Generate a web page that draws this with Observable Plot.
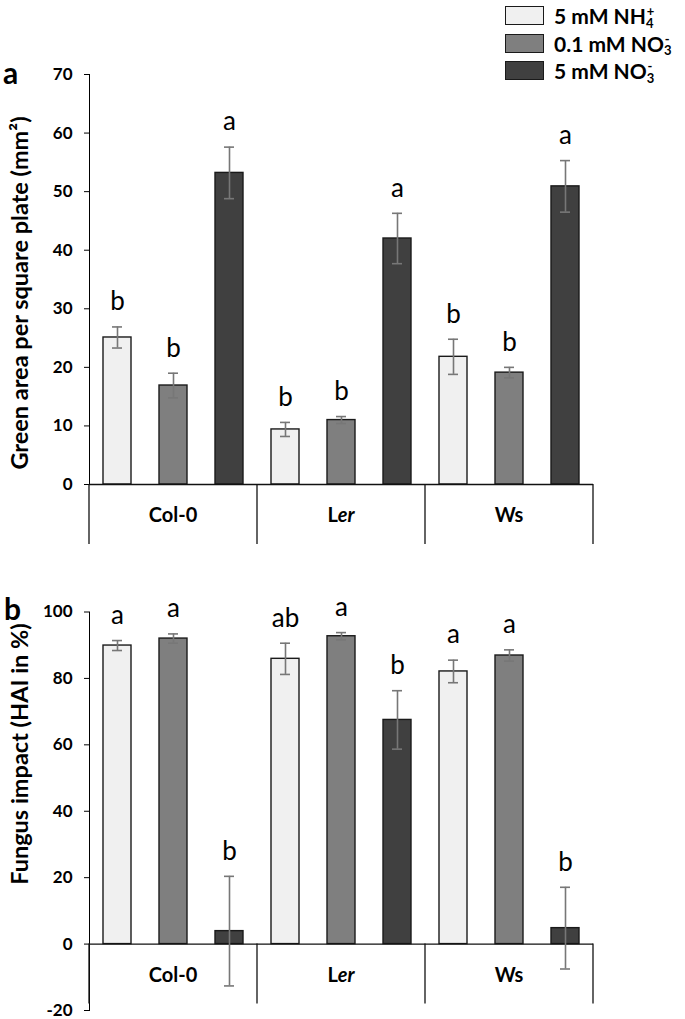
<!DOCTYPE html>
<html>
<head>
<meta charset="utf-8">
<script src="https://cdn.jsdelivr.net/npm/d3@7"></script>
<script src="https://cdn.jsdelivr.net/npm/@observablehq/plot@0.6"></script>
<style>
  body { margin: 0; background: #fff; }
  #root { position: relative; width: 685px; height: 1019px; font-family: Lato, "Open Sans", sans-serif; color: #000; overflow: hidden; }
  .abs { position: absolute; }
  .plabel { font-weight: bold; font-size: 30px; line-height: 1; }
  .ytitle { font-weight: bold; font-size: 23.5px; white-space: nowrap; transform: translate(-50%, -50%) rotate(-90deg); line-height: 1; }
  .leg-row { position: absolute; left: 505px; height: 21px; display: flex; align-items: center; }
  .leg-box { width: 37px; height: 17px; border: 1.6px solid #1a1a1a; }
  .leg-text { margin-left: 10px; font-weight: bold; font-size: 21px; white-space: nowrap; line-height: 1; }
  .leg-text sub, .leg-text sup { font-size: 0.62em; line-height: 0; position: relative; vertical-align: baseline; }
  .leg-text sub { top: 0.3em; }
  .leg-text sup { top: -0.6em; margin-left: -0.52em; }
</style>
</head>
<body>
<div id="root">
  <div id="pa" class="abs" style="left:0;top:0"></div>
  <div id="pb" class="abs" style="left:0;top:560px"></div>
  <div class="abs plabel" style="left:3px;top:57px">a</div>
  <div class="abs plabel" style="left:4px;top:593px">b</div>
  <div class="abs ytitle" style="left:20px;top:293px">Green area per square plate (mm²)</div>
  <div class="abs ytitle" style="left:20px;top:754px">Fungus impact (HAI in %)</div>
  <div id="legend"></div>
</div>
<script>
// ---- data ----
const genotypes = ["Col-0", "Ler", "Ws"];
const treatments = ["5 mM NH4+", "0.1 mM NO3-", "5 mM NO3-"];
const treatmentColors = ["#f0f0f0", "#7f7f7f", "#404040"];

// Panel a: green area per square plate (mm²), rows = genotype, cols = treatment
const areaMean = [[25.1, 16.9, 53.2], [9.4, 11.0, 42.0], [21.8, 19.1, 50.9]];
const areaErr = [[1.8, 2.1, 4.4], [1.2, 0.6, 4.3], [3.0, 0.9, 4.4]];
const areaLetters = [["b", "b", "a"], ["b", "b", "a"], ["b", "b", "a"]];
const areaTicks = [0, 10, 20, 30, 40, 50, 60, 70];

// Panel b: fungus impact (HAI in %)
const haiMean = [[89.9, 92.0, 3.9], [85.9, 92.7, 67.5], [82.1, 86.9, 4.8]];
const haiErr = [[1.5, 1.4, 16.5], [4.7, 1.1, 8.8], [3.4, 1.7, 12.3]];
const haiLetters = [["a", "a", "b"], ["ab", "a", "b"], ["a", "a", "b"]];
const haiTicks = [-20, 0, 20, 40, 60, 80, 100];

// ---- build tables ----
const keyOf = (g, t) => g + "|" + t;
const keys = genotypes.flatMap(g => treatments.map(t => keyOf(g, t)));
function rowsFrom(mean, err, letters) {
  return genotypes.flatMap((g, i) => treatments.map((t, j) => ({
    key: keyOf(g, t), genotype: g, treatment: t,
    mean: mean[i][j], err: err[i][j], letter: letters[i][j]
  })));
}

const FONT = "Lato, 'Open Sans', sans-serif";

function categoryBox(index, scales) {
  const x = scales.x, y = scales.y;
  const step = x(keys[1]) - x(keys[0]);
  const bw = typeof x.bandwidth === "function" ? x.bandwidth() : step * 0.5;
  const gap = (step - bw) / 2;
  const y0 = y(0);
  const g = d3.create("svg:g");
  genotypes.forEach((gname, i) => {
    const left = x(keyOf(gname, treatments[0])) - gap;
    const right = x(keyOf(gname, treatments[treatments.length - 1])) + bw + gap;
    const mid = x(keyOf(gname, treatments[1])) + bw / 2;
    for (const xx of i === 0 ? [left, right] : [right]) {
      g.append("line").attr("x1", xx).attr("x2", xx).attr("y1", y0).attr("y2", y0 + 60)
        .attr("stroke", "#111").attr("stroke-width", 1.3);
    }
    const t = g.append("text").attr("x", mid).attr("y", y0 + 31).attr("dy", "0.35em")
      .attr("text-anchor", "middle").attr("font-weight", "bold").attr("font-size", 20)
      .attr("font-family", FONT).attr("fill", "#000");
    if (gname === "Ler") {
      t.append("tspan").text("L");
      t.append("tspan").attr("font-style", "italic").text("er");
    } else {
      t.text(gname);
    }
  });
  return g.node();
}

function panel(rows, {domain, ticks, height, marginTop, marginBottom}) {
  return Plot.plot({
    width: 685, height, marginLeft: 89, marginRight: 92, marginTop, marginBottom,
    style: {fontFamily: FONT, fontSize: "17px", fontWeight: "bold", background: "transparent", overflow: "visible", color: "#000"},
    x: {domain: keys, paddingInner: 0.5, paddingOuter: 0.25, axis: null},
    y: {domain, ticks, tickSize: 5, tickPadding: 12, label: null, line: true, tickFormat: d => String(d)},
    color: {domain: treatments, range: treatmentColors},
    marks: [
      Plot.barY(rows, {x: "key", y: "mean", fill: "treatment", stroke: "#1a1a1a", strokeWidth: 1.4}),
      Plot.ruleY([0], {stroke: "#111", strokeWidth: 1.3}),
      Plot.ruleX(rows, {x: "key", y1: d => d.mean - d.err, y2: d => d.mean + d.err, stroke: "#777", strokeWidth: 1.6}),
      Plot.tickY(rows, {x: "key", y: d => d.mean + d.err, insetLeft: 9, insetRight: 9, stroke: "#777", strokeWidth: 1.6}),
      Plot.tickY(rows, {x: "key", y: d => d.mean - d.err, insetLeft: 9, insetRight: 9, stroke: "#777", strokeWidth: 1.6}),
      Plot.text(rows, {x: "key", y: d => d.mean + d.err, text: "letter", dy: -25, lineAnchor: "middle", fontSize: 26, fontWeight: "normal", fill: "#000"}),
      categoryBox
    ]
  });
}

document.getElementById("pa").appendChild(panel(rowsFrom(areaMean, areaErr, areaLetters),
  {domain: [0, 70], ticks: areaTicks, height: 560, marginTop: 74, marginBottom: 76}));
document.getElementById("pb").appendChild(panel(rowsFrom(haiMean, haiErr, haiLetters),
  {domain: [-20, 100], ticks: haiTicks, height: 459, marginTop: 51.5, marginBottom: 9}));

// ---- legend ----
const legendHTML = [
  '5 mM NH<sub>4</sub><sup>+</sup>',
  '0.1 mM NO<sub>3</sub><sup>-</sup>',
  '5 mM NO<sub>3</sub><sup>-</sup>'
];
const legend = document.getElementById("legend");
treatments.forEach((t, i) => {
  const row = document.createElement("div");
  row.className = "leg-row";
  row.style.top = (5 + i * 27.5) + "px";
  row.innerHTML = `<div class="leg-box" style="background:${treatmentColors[i]}"></div><div class="leg-text">${legendHTML[i]}</div>`;
  legend.appendChild(row);
});
</script>
</body>
</html>
